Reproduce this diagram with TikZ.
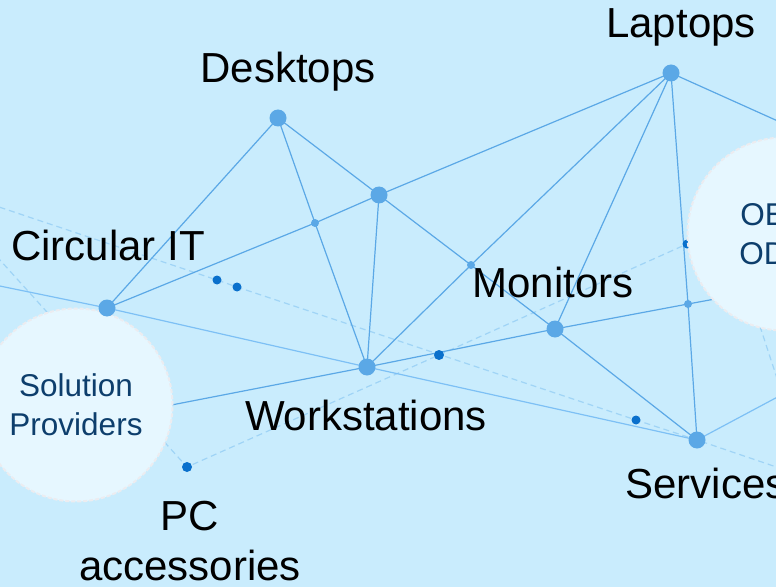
\documentclass[tikz,border=0pt]{standalone}
\usepackage{fontspec}
\setmainfont{Liberation Sans}
\definecolor{paleblue}{RGB}{201,236,253}
\definecolor{nodeblue}{RGB}{91,168,230}
\definecolor{faintblue}{RGB}{125,192,245}
\definecolor{trailblue}{RGB}{160,212,246}
\definecolor{spotblue}{RGB}{10,112,204}
\definecolor{cloudfill}{RGB}{230,247,255}
\definecolor{cloudrim}{RGB}{236,236,240}
\definecolor{textnavy}{RGB}{13,62,108}
\begin{document}
\begin{tikzpicture}[x=1bp,y=-1bp,
  link/.style={nodeblue,line width=1.2bp},
  faint/.style={faintblue,line width=1.2bp},
  trail/.style={trailblue,line width=1.2bp,dash pattern=on 6bp off 4bp},
  cloud/.style={circle,fill=cloudfill,draw=cloudrim,line width=2bp,dash pattern=on 4bp off 2bp,
    minimum size=193bp,inner sep=0pt,align=center,text=textnavy,font=\fontsize{31.5bp}{39bp}\selectfont},
  lbl/.style={anchor=base,font=\fontsize{42bp}{50bp}\selectfont}]
\clip (0,0) rectangle (776,587);
\fill[paleblue] (0,0) rectangle (776,587);

% hubs and joints of the web
\coordinate (desk) at (278,118);
\coordinate (lap) at (671,73);
\coordinate (hub) at (379,195);
\coordinate (circ) at (107,308);
\coordinate (work) at (367,367);
\coordinate (mon) at (555,329);
\coordinate (serv) at (697,440);
\coordinate (j1) at (315,223);
\coordinate (j2) at (471,265);
\coordinate (j3) at (688,304);
% dark spots
\coordinate (s1) at (217,280);
\coordinate (s2) at (237,287);
\coordinate (s3) at (439,355);
\coordinate (s4) at (636,420);
\coordinate (s5) at (187,467);
\coordinate (s6) at (687,244);
% circles
\coordinate (sol) at (76,405);
\coordinate (oem) at (784,234);
% loose ends
\coordinate (eL) at (-10,204);
\coordinate (eR) at (800,475);
\coordinate (eW) at (-10,249);
\coordinate (eC) at (-10,284);
\coordinate (eS) at (800,385);
\coordinate (eLap) at (800,131);
\coordinate (eM) at (780,287);
\coordinate (soledge) at (120,415);
\coordinate (tailA) at (735,250);
\coordinate (tailB) at (790,418);

% dashed trails
\draw[trail] (eL) -- (s1) -- (s2) -- (s4) -- (serv) -- (eR);
\draw[trail] (eW) -- (s5) -- (s3) -- (s6);
\draw[trail] (tailA) -- (tailB);

% light lines
\draw[faint] (eC) -- (circ) -- (work) -- (serv) -- (eS);

% main lines
\draw[link] (desk) -- (circ);
\draw[link] (desk) -- (hub);
\draw[link] (desk) -- (j1) -- (work);
\draw[link] (circ) -- (j1) -- (hub);
\draw[link] (hub) -- (lap);
\draw[link] (hub) -- (work);
\draw[link] (hub) -- (j2) -- (mon);
\draw[link] (lap) -- (j2) -- (work);
\draw[link] (lap) -- (mon);
\draw[link] (lap) -- (j3) -- (serv);
\draw[link] (lap) -- (eLap);
\draw[link] (mon) -- (serv);
\draw[link] (mon) -- (j3) -- (eM);
\draw[link] (soledge) -- (work) -- (mon);

\foreach \p in {s1,s2,s4,s6} \fill[spotblue] (\p) circle (4.5bp);
\foreach \p in {s3,s5} \fill[spotblue] (\p) circle (5bp);

\node[cloud] (solc) at (sol) {Solution\\Providers};
\node[cloud] (oemc) at (oem) {OEMs\\ODMs};

\foreach \p in {desk,lap,hub,circ,work,mon,serv} \fill[nodeblue] (\p) circle (8.5bp);
\foreach \p in {j1,j2,j3} \fill[nodeblue] (\p) circle (4bp);

\node[lbl] (deskl) at (288,83) {Desktops};
\node[lbl] (lapl) at (681,38) {Laptops};
\node[lbl] (circl) at (108,260) {Circular IT};
\node[lbl] (monl) at (553,297) {Monitors};
\node[lbl] (workl) at (366,430) {Workstations};
\node[lbl] (servl) at (706,498) {Services};
\node[lbl] (pcl) at (190,530) {PC};
\node[lbl] (accl) at (190,580) {accessories};
\end{tikzpicture}
\end{document}
